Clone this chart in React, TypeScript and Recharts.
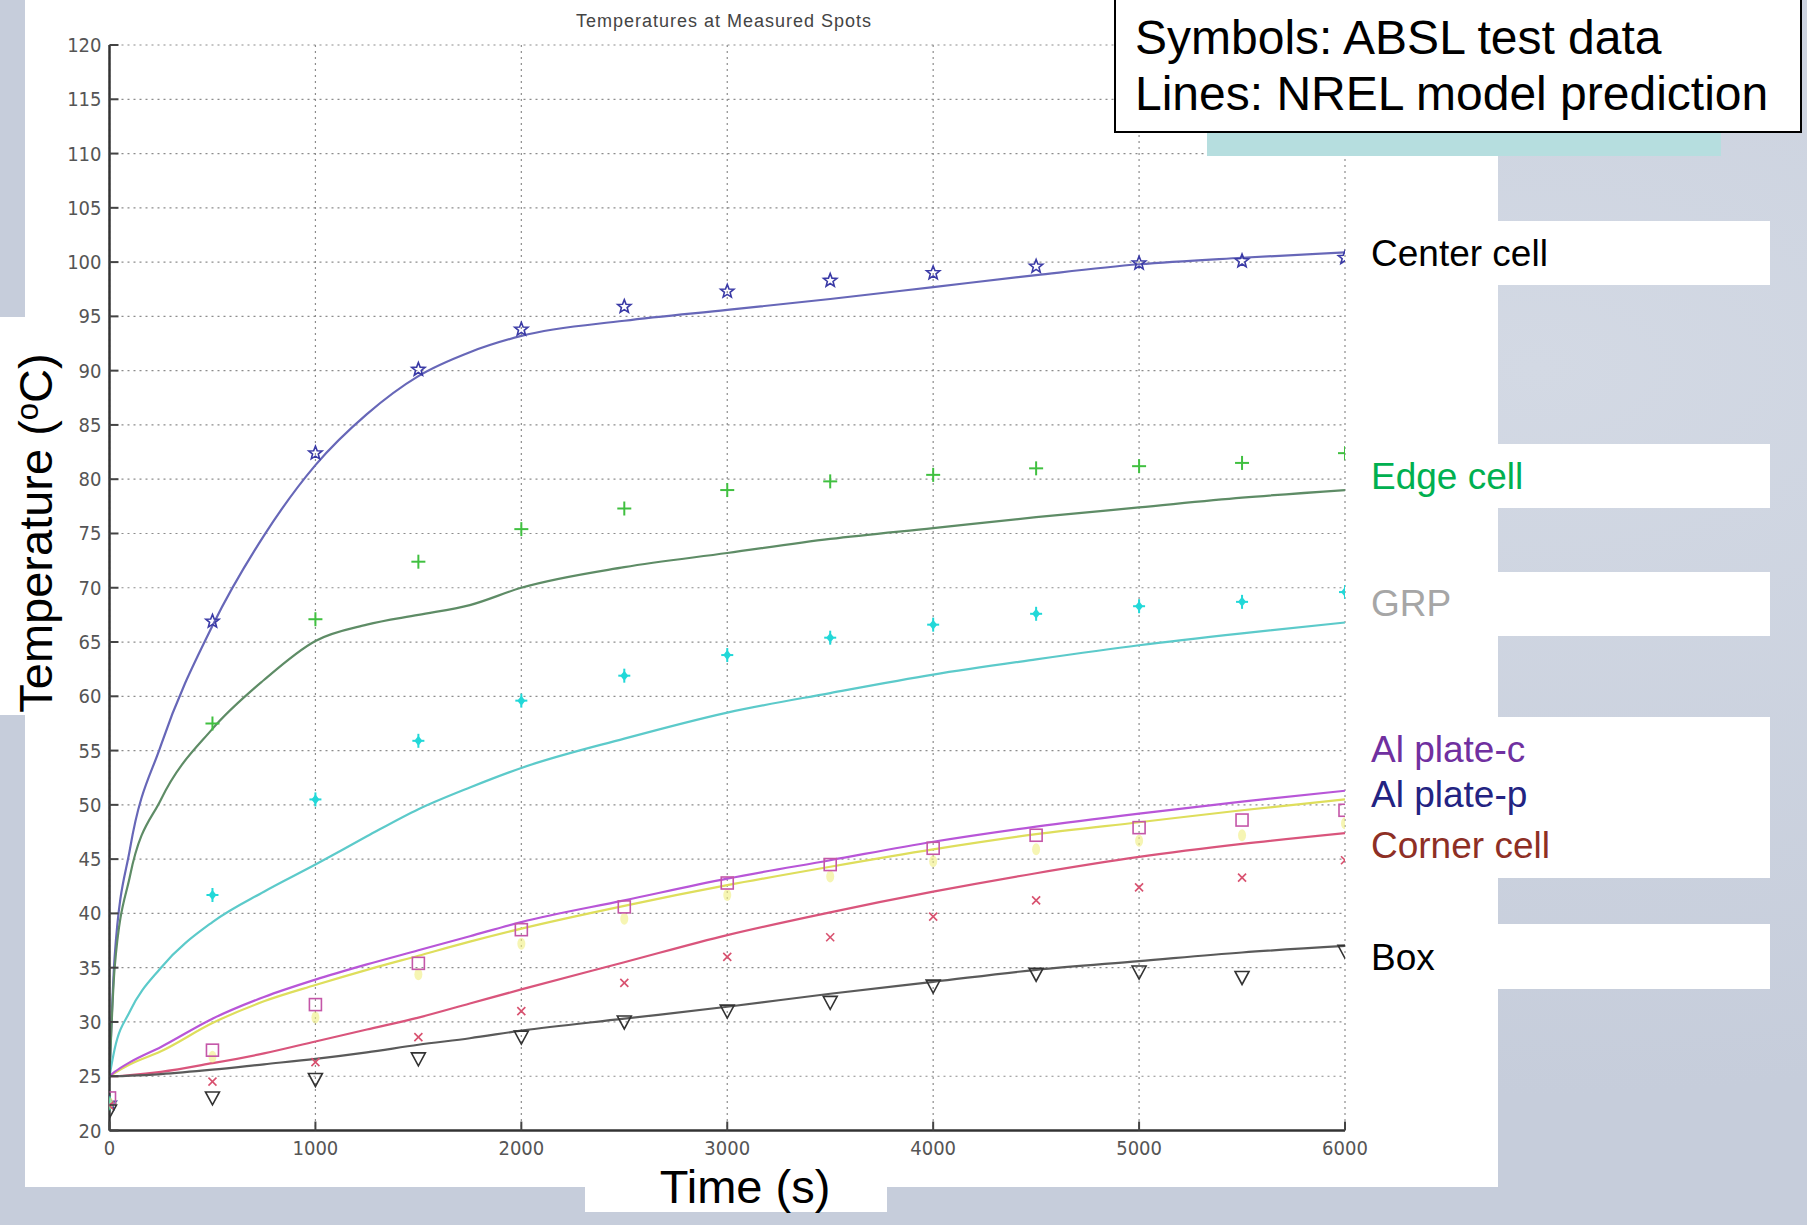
import React from "react";
import { ComposedChart, Line, Scatter, XAxis, YAxis, CartesianGrid } from "recharts";

// axis ticks
const xTicks = [0, 1000, 2000, 3000, 4000, 5000, 6000];
const yTicks = [20, 25, 30, 35, 40, 45, 50, 55, 60, 65, 70, 75, 80, 85, 90, 95, 100, 105, 110, 115, 120];

// NREL model prediction (lines), sampled at these times (s)
const modelTimes = [0, 25, 100, 250, 500, 750, 1000, 1250, 1500, 1750, 2000, 2500, 3000, 3500, 4000, 4500, 5000, 5500, 6000];
const centerModel = [25, 36, 46, 55.5, 66.5, 74.8, 81.3, 86.0, 89.5, 91.7, 93.2, 94.6, 95.6, 96.6, 97.7, 98.8, 99.8, 100.4, 100.9];
const edgeModel = [25, 35, 43.5, 50.5, 57.0, 61.5, 65.1, 66.6, 67.5, 68.4, 70.0, 71.9, 73.2, 74.5, 75.5, 76.5, 77.4, 78.3, 79.0];
const grpModel = [25, 27.5, 31.0, 35.0, 39.2, 42.0, 44.5, 47.1, 49.6, 51.6, 53.4, 56.1, 58.5, 60.3, 62.0, 63.4, 64.7, 65.8, 66.8];
const plateCModel = [25, 25.4, 26.3, 27.7, 30.3, 32.3, 33.9, 35.3, 36.6, 37.9, 39.2, 41.2, 43.2, 44.9, 46.6, 48.0, 49.2, 50.3, 51.3];
const platePModel = [25, 25.3, 26.1, 27.3, 29.9, 31.9, 33.4, 34.8, 36.1, 37.4, 38.6, 40.7, 42.6, 44.3, 45.9, 47.3, 48.4, 49.5, 50.5];
const cornerModel = [25, 25, 25.1, 25.4, 26.2, 27.1, 28.2, 29.3, 30.4, 31.7, 33.0, 35.5, 38.0, 40.1, 42.0, 43.7, 45.2, 46.4, 47.4];
const boxModel = [25, 25, 25.05, 25.2, 25.6, 26.1, 26.6, 27.2, 27.9, 28.5, 29.2, 30.3, 31.4, 32.6, 33.7, 34.8, 35.6, 36.4, 37.0];

// ABSL test data (symbols)
const testTimes = [0, 500, 1000, 1500, 2000, 2500, 3000, 3500, 4000, 4500, 5000, 5500, 6000];
const centerTest = [22.5, 66.9, 82.4, 90.1, 93.8, 95.9, 97.3, 98.3, 99.0, 99.6, 99.9, 100.1, 100.4];
const edgeTest = [22.5, 57.5, 67.1, 72.4, 75.4, 77.3, 79.0, 79.8, 80.4, 81.0, 81.2, 81.5, 82.4];
const grpTest = [22.5, 41.7, 50.5, 55.9, 59.6, 61.9, 63.8, 65.4, 66.6, 67.6, 68.3, 68.7, 69.6];
const plateCTest = [23.0, 27.4, 31.6, 35.4, 38.5, 40.6, 42.8, 44.5, 46.0, 47.2, 47.9, 48.6, 49.5];
const platePTest = [22.5, 26.8, 30.4, 34.4, 37.2, 39.5, 41.7, 43.4, 44.8, 45.9, 46.7, 47.2, 48.3];
const cornerTest = [22.3, 24.5, 26.3, 28.6, 31.0, 33.6, 36.0, 37.8, 39.7, 41.2, 42.4, 43.3, 44.9];
const boxTest = [21.8, 23.0, 24.7, 26.6, 28.6, 30.0, 31.0, 31.8, 33.3, 34.4, 34.6, 34.1, 36.5];

const toPts = (ts: number[], vs: number[]) => ts.map((t, i) => ({ t, v: vs[i] }));

const narrow = '"Liberation Sans Narrow", "DejaVu Sans Condensed", "Arial Narrow", sans-serif';
const sans = '"Liberation Sans", Arial, Helvetica, sans-serif';

const starShape = (color: string) => (p: any) => {
  const pts: string[] = [];
  for (let i = 0; i < 10; i++) {
    const r = i % 2 === 0 ? 7 : 3;
    const a = -Math.PI / 2 + (i * Math.PI) / 5;
    pts.push(`${p.cx + r * Math.cos(a)},${p.cy + r * Math.sin(a)}`);
  }
  return <polygon points={pts.join(" ")} fill="none" stroke={color} strokeWidth={1.6} />;
};

const plusShape = (color: string) => (p: any) => (
  <g stroke={color} strokeWidth={2}>
    <line x1={p.cx - 7} x2={p.cx + 7} y1={p.cy} y2={p.cy} />
    <line x1={p.cx} x2={p.cx} y1={p.cy - 7} y2={p.cy + 7} />
  </g>
);

const grpShape = (color: string) => (p: any) => (
  <g>
    <line x1={p.cx - 6} x2={p.cx + 6} y1={p.cy} y2={p.cy} stroke={color} strokeWidth={2} />
    <line x1={p.cx} x2={p.cx} y1={p.cy - 7} y2={p.cy + 7} stroke={color} strokeWidth={2} />
    <polygon
      points={`${p.cx},${p.cy - 5} ${p.cx + 4},${p.cy} ${p.cx},${p.cy + 5} ${p.cx - 4},${p.cy}`}
      fill={color}
    />
  </g>
);

const squareShape = (color: string) => (p: any) => (
  <rect x={p.cx - 6} y={p.cy - 6} width={12} height={12} fill="none" stroke={color} strokeWidth={1.6} />
);

const blobShape = (color: string) => (p: any) => (
  <ellipse cx={p.cx} cy={p.cy} rx={4} ry={6} fill={color} opacity={0.6} />
);

const xShape = (color: string) => (p: any) => (
  <g stroke={color} strokeWidth={1.6}>
    <line x1={p.cx - 4} x2={p.cx + 4} y1={p.cy - 4} y2={p.cy + 4} />
    <line x1={p.cx - 4} x2={p.cx + 4} y1={p.cy + 4} y2={p.cy - 4} />
  </g>
);

const triShape = (color: string) => (p: any) => (
  <polygon
    points={`${p.cx - 7},${p.cy - 6} ${p.cx + 7},${p.cy - 6} ${p.cx},${p.cy + 7}`}
    fill="none"
    stroke={color}
    strokeWidth={1.6}
  />
);

const series = [
  { key: "center", model: centerModel, test: centerTest, line: "#6767b8", mark: "#3a3aa6", shape: starShape },
  { key: "edge", model: edgeModel, test: edgeTest, line: "#5e8c66", mark: "#40c040", shape: plusShape },
  { key: "grp", model: grpModel, test: grpTest, line: "#5ccaca", mark: "#22d8d8", shape: grpShape },
  { key: "plateP", model: platePModel, test: platePTest, line: "#dede5c", mark: "#f0ee80", shape: blobShape },
  { key: "plateC", model: plateCModel, test: plateCTest, line: "#b856d8", mark: "#c456a8", shape: squareShape },
  { key: "corner", model: cornerModel, test: cornerTest, line: "#d9557c", mark: "#d8506e", shape: xShape },
  { key: "box", model: boxModel, test: boxTest, line: "#5a5a5a", mark: "#333333", shape: triShape },
];

const LeftTick = (p: any) => {
  const ax = p.x + 8;
  return (
    <g>
      <line x1={ax} x2={ax + 9} y1={p.y} y2={p.y} stroke="#444" strokeWidth={2} />
      <text x={p.x} y={p.y + 7} textAnchor="end" fontSize={20} fill="#555" fontFamily={narrow}>
        {p.payload.value}
      </text>
    </g>
  );
};

const RightTick = (p: any) => (
  <line x1={p.x - 9} x2={p.x} y1={p.y} y2={p.y} stroke="#444" strokeWidth={2} />
);

const BottomTick = (p: any) => {
  const ay = p.y - 10;
  return (
    <g>
      <line x1={p.x} x2={p.x} y1={ay} y2={ay - 9} stroke="#444" strokeWidth={2} />
      <text x={p.x} y={p.y + 14} textAnchor="middle" fontSize={20} fill="#555" fontFamily={narrow}>
        {p.payload.value}
      </text>
    </g>
  );
};

const TopTick = (p: any) => (
  <line x1={p.x} x2={p.x} y1={p.y} y2={p.y + 9} stroke="#444" strokeWidth={2} />
);

const box = (left: number, top: number, width: number, height: number, bg = "#ffffff"): React.CSSProperties => ({
  position: "absolute",
  left,
  top,
  width,
  height,
  background: bg,
});

const labels = [
  { text: "Center cell", color: "#000000", y: 254 },
  { text: "Edge cell", color: "#00b050", y: 477 },
  { text: "GRP", color: "#a6a6a6", y: 604 },
  { text: "Al plate-c", color: "#7030a0", y: 750 },
  { text: "Al plate-p", color: "#232382", y: 795 },
  { text: "Corner cell", color: "#8e2f25", y: 846 },
  { text: "Box", color: "#000000", y: 958 },
];

export default function App() {
  return (
    <div
      style={{
        position: "absolute",
        left: 0,
        top: 0,
        width: 1807,
        height: 1225,
        overflow: "hidden",
        background:
          "radial-gradient(ellipse at 85% 30%, #d3d9e4 0%, #c6cddb 60%), #c8cfdc",
        fontFamily: sans,
      }}
    >
      {/* white slide panels */}
      <div style={box(25, 0, 1473, 1187)} />
      <div style={box(0, 317, 60, 398)} />
      <div style={box(585, 1150, 302, 62)} />
      <div style={box(1348, 221, 422, 64)} />
      <div style={box(1348, 444, 422, 64)} />
      <div style={box(1348, 572, 422, 64)} />
      <div style={box(1348, 717, 422, 161)} />
      <div style={box(1348, 924, 422, 65)} />

      <div
        style={{
          position: "absolute",
          left: 0,
          top: 21,
          width: 1448,
          textAlign: "center",
          fontSize: 18,
          letterSpacing: 1,
          color: "#444",
          lineHeight: "18px",
          transform: "translateY(-50%)",
        }}
      >
        Temperatures at Measured Spots
      </div>

      <div style={{ position: "absolute", left: 0, top: 0 }}>
        <ComposedChart
          width={1500}
          height={1190}
          margin={{ top: 45, right: 155, bottom: 20, left: 0 }}
        >
          <CartesianGrid stroke="#8c8c8c" strokeDasharray="2 4" strokeWidth={1.2} />
          <XAxis
            dataKey="t"
            type="number"
            domain={[0, 6000]}
            ticks={xTicks}
            height={39.5}
            tickSize={0}
            tickMargin={10}
            tick={<BottomTick />}
            tickLine={false}
            axisLine={{ stroke: "#333", strokeWidth: 2.5 }}
            allowDataOverflow
          />
          <XAxis
            xAxisId="top"
            orientation="top"
            dataKey="t"
            type="number"
            domain={[0, 6000]}
            ticks={xTicks}
            height={0}
            tickSize={0}
            tickMargin={0}
            tick={<TopTick />}
            tickLine={false}
            axisLine={{ stroke: "#555", strokeWidth: 2.5 }}
            allowDataOverflow
          />
          <YAxis
            type="number"
            domain={[20, 120]}
            ticks={yTicks}
            width={109.5}
            tickSize={0}
            tickMargin={8}
            tick={<LeftTick />}
            tickLine={false}
            axisLine={{ stroke: "#333", strokeWidth: 2.5 }}
            interval={0}
            allowDataOverflow
          />
          <YAxis
            yAxisId="right"
            orientation="right"
            type="number"
            domain={[20, 120]}
            ticks={yTicks}
            width={0}
            tickSize={0}
            tickMargin={0}
            tick={<RightTick />}
            tickLine={false}
            axisLine={{ stroke: "#222", strokeWidth: 2.5 }}
            interval={0}
            allowDataOverflow
          />
          {series.map((s) => (
            <Line
              key={s.key + "-model"}
              data={toPts(modelTimes, s.model)}
              dataKey="v"
              type="monotone"
              stroke={s.line}
              strokeWidth={2.2}
              dot={false}
              activeDot={false}
              isAnimationActive={false}
            />
          ))}
          {series.map((s) => (
            <Scatter
              key={s.key + "-test"}
              data={toPts(testTimes, s.test)}
              dataKey="v"
              shape={s.shape(s.mark)}
              isAnimationActive={false}
            />
          ))}
        </ComposedChart>
      </div>

      {/* axis titles */}
      <div
        style={{
          position: "absolute",
          left: 32,
          top: 533,
          fontSize: 47,
          color: "#000",
          whiteSpace: "nowrap",
          lineHeight: "50px",
          transform: "translate(-50%, -50%) rotate(-90deg)",
        }}
      >
        Temperature (<span style={{ fontSize: 31, verticalAlign: 14 }}>o</span>C)
      </div>
      <div
        style={{
          position: "absolute",
          left: 745,
          top: 1187,
          fontSize: 47,
          color: "#000",
          whiteSpace: "nowrap",
          lineHeight: "50px",
          transform: "translate(-50%, -50%)",
        }}
      >
        Time (s)
      </div>

      {/* series labels */}
      {labels.map((l) => (
        <div
          key={l.text}
          style={{
            position: "absolute",
            left: 1371,
            top: l.y,
            fontSize: 37,
            lineHeight: "40px",
            color: l.color,
            whiteSpace: "nowrap",
            transform: "translateY(-50%)",
          }}
        >
          {l.text}
        </div>
      ))}

      {/* note box */}
      <div style={box(1207, 132, 514, 24, "#b6dedf")} />
      <div
        style={{
          position: "absolute",
          left: 1114,
          top: -2,
          width: 688,
          height: 135,
          background: "#fff",
          border: "2px solid #000",
          boxSizing: "border-box",
          fontSize: 48,
          lineHeight: "56px",
          paddingLeft: 19,
          paddingTop: 10,
          color: "#000",
          whiteSpace: "nowrap",
        }}
      >
        Symbols: ABSL test data
        <br />
        Lines: NREL model prediction
      </div>
    </div>
  );
}
